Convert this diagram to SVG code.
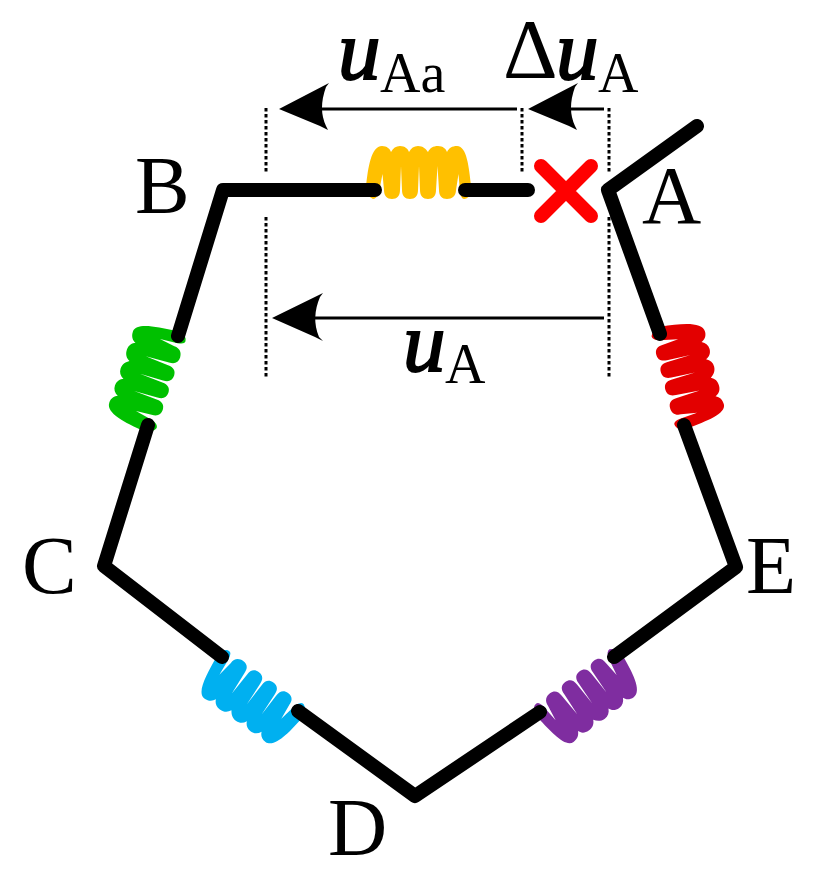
<svg xmlns="http://www.w3.org/2000/svg" width="823" height="879" viewBox="0 0 823 879">
<style>
.w{fill:none;stroke:#000;stroke-width:14;stroke-linecap:round;stroke-linejoin:round}
.d{fill:none;stroke:#000;stroke-width:3;stroke-dasharray:3.500 2.500}
.l{fill:none;stroke:#000;stroke-width:3}
.h{fill:#000}
text{font-family:"Liberation Serif","Times New Roman",serif;fill:#000}
.n{font-size:82px}
.u{font-size:85px;font-style:italic;stroke:#000;stroke-width:2}
.s{font-size:56px}
</style>
<defs>
<path id="coil" d="M-54 -3C-52 -22 -49 -44 -38 -44C-33 -44 -30 -41 -29 -38C-27 -42 -24 -44 -20 -44C-15 -44 -12 -41 -11 -38C-9 -42 -6 -44 -2 -44C3 -44 6 -41 8 -38C10 -42 13 -44 18 -44C23 -44 26 -41 27 -38C29 -42 32 -44 37 -44C47 -44 49 -22 51 -5L51 2Q49 9 44 9Q41 9 40 2L38.500 -16L36 0C36 6 32 9 27 9C22 9 19 6 19 0L17.500 -24L16 0C16 6 13 9 8 9C3 9 0 6 0 0L-1 -24L-2 0C-2 6 -5 9 -10 9C-15 9 -18 6 -18 0L-19 -24L-20 0C-20 6 -23 9 -28 9C-33 9 -36 6 -36 0L-37.500 -16L-41 2Q-43 9 -47 9Q-54 6 -54 -3Z"/>
</defs>
<g id="dimension-lines">
<path class="d" d="M266 108V173M266 217V378M522 108V173M609 108V173M609 217V378"/>
</g>
<g id="connectors">
<path class="l" d="M320 109H517M570 109H604M313 318H604"/>
<path class="h" d="M279 109L329 83L326 87Q318 109 326 126L328 130L320 126Z"/>
<path class="h" d="M528 109L578 83L575 87Q567 109 575 126L577 130L569 126Z"/>
<path class="h" d="M272 318L323 293L320 297Q311 318 319 337L323 341L315 337Z"/>
</g>
<g id="coil-ab"><use href="#coil" transform="translate(420 190)" fill="#FFC000"/></g>
<g id="coil-bc"><use href="#coil" transform="translate(163 380.500) rotate(-71.600)" fill="#00C000"/></g>
<g id="coil-cd"><use href="#coil" transform="translate(260 684) rotate(215.400)" fill="#00B0F0"/></g>
<g id="coil-de"><use href="#coil" transform="translate(577 684.500) rotate(143.400)" fill="#7F2DA0"/></g>
<g id="coil-ea"><use href="#coil" transform="translate(672 379.500) rotate(75.500)" fill="#E30000"/></g>
<g id="wires">
<path class="w" d="M697 126L608 190L660 334"/>
<path class="w" d="M684 425L736 567L614 657"/>
<path class="w" d="M540 712L415 796L298 711"/>
<path class="w" d="M222 657L104 566L148 425"/>
<path class="w" d="M178 336L223 190H375"/>
<path class="w" d="M465 190H528"/>
</g>
<g id="break"><path d="M541 166L591 216M591 166L541 216" fill="none" stroke="#F00" stroke-width="14" stroke-linecap="round"/></g>
<g id="node-a"><text class="n" x="642" y="223">A</text></g>
<g id="node-b"><text class="n" x="135" y="213">B</text></g>
<g id="node-c"><text class="n" x="22" y="593">C</text></g>
<g id="node-d"><text class="n" x="328" y="855">D</text></g>
<g id="node-e"><text class="n" x="746" y="593">E</text></g>
<g id="label-uaa"><text class="u" x="338" y="79">u</text><text class="s" x="380" y="92">Aa</text></g>
<g id="label-dua"><text class="n" x="503" y="78" style="font-size:85px">Δ</text><text class="u" x="556" y="79">u</text><text class="s" x="598" y="92">A</text></g>
<g id="label-ua"><text class="u" x="403" y="371">u</text><text class="s" x="445" y="383">A</text></g>
</svg>
